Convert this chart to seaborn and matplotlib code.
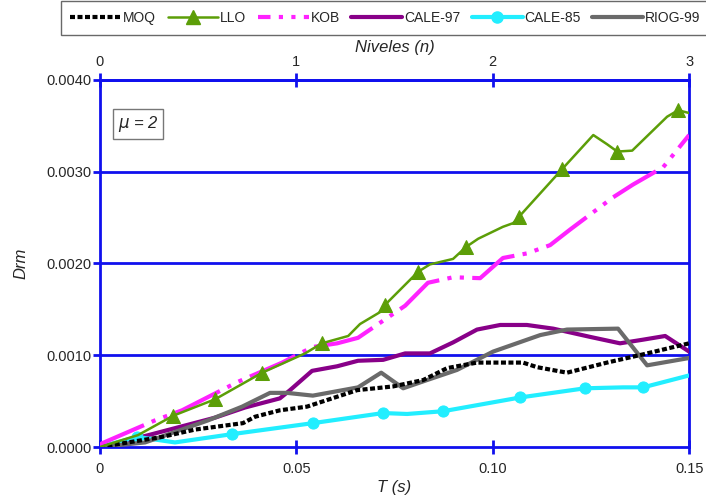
import numpy as np
import pandas as pd
import matplotlib
matplotlib.use("Agg")
import matplotlib.pyplot as plt
from matplotlib.lines import Line2D
import seaborn as sns

# Period T (s) and drift ratio Drm for each record
moq_t = [0, 0.0158, 0.0242, 0.0364, 0.0395, 0.0458, 0.0527, 0.0655, 0.0746, 0.0823,
         0.0884, 0.0960, 0.1077, 0.1113, 0.1189, 0.1291, 0.1383, 0.15]
moq_v = [0, 0.00011, 0.00019, 0.00026, 0.00033, 0.00040, 0.00044, 0.00062, 0.00066, 0.00073,
         0.00086, 0.00092, 0.00092, 0.00087, 0.00081, 0.00092, 0.00101, 0.00113]

llo_t = [0, 0.0097, 0.0186, 0.0293, 0.0413, 0.0522, 0.0565, 0.0632, 0.0662, 0.0713,
         0.0726, 0.0810, 0.0840, 0.0899, 0.0932, 0.0963, 0.1026, 0.1052, 0.1067, 0.1177,
         0.1256, 0.1291, 0.1317, 0.1355, 0.1444, 0.1472, 0.15]
llo_v = [0, 0.00013, 0.00034, 0.00052, 0.00081, 0.00102, 0.00113, 0.00121, 0.00134, 0.00147,
         0.00155, 0.00191, 0.00199, 0.00205, 0.00218, 0.00227, 0.00240, 0.00244, 0.00251, 0.00303,
         0.00340, 0.00330, 0.00322, 0.00323, 0.00360, 0.00367, 0.00364]
llo_marks = [2, 3, 4, 6, 10, 11, 14, 18, 19, 22, 25]

kob_t = [0, 0.0005, 0.0140, 0.0209, 0.0351, 0.0464, 0.0509, 0.0542, 0.0604, 0.0657,
         0.0777, 0.0835, 0.0899, 0.0968, 0.1026, 0.1087, 0.1146, 0.1197, 0.1306, 0.1357,
         0.1434, 0.15]
kob_v = [0, 0.00004, 0.00029, 0.00040, 0.00071, 0.00092, 0.00102, 0.00109, 0.00113, 0.00119,
         0.00154, 0.00179, 0.00185, 0.00184, 0.00206, 0.00211, 0.00220, 0.00237, 0.00272, 0.00286,
         0.00305, 0.00340]

cale97_t = [0, 0.0115, 0.0293, 0.0369, 0.0458, 0.0484, 0.0540, 0.0604, 0.0657, 0.0721,
            0.0777, 0.0840, 0.0899, 0.0960, 0.1019, 0.1087, 0.1154, 0.1248, 0.1324, 0.1383,
            0.1439, 0.15]
cale97_v = [0, 0.00012, 0.00032, 0.00043, 0.00053, 0.00062, 0.00083, 0.00088, 0.00094, 0.00095,
            0.00102, 0.00102, 0.00114, 0.00128, 0.00133, 0.00133, 0.00129, 0.00120, 0.00113, 0.00117,
            0.00121, 0.00104]

cale85_t = [0, 0.0094, 0.0191, 0.0336, 0.0542, 0.0721, 0.0782, 0.0874, 0.1070, 0.1235,
            0.1332, 0.1383, 0.15]
cale85_v = [0, 0.00011, 0.00005, 0.00014, 0.00026, 0.00037, 0.00036, 0.00039, 0.00054, 0.00064,
            0.00065, 0.00065, 0.00078]
cale85_marks = [1, 3, 4, 5, 7, 8, 9, 11]

riog_t = [0, 0.0115, 0.0275, 0.0362, 0.0433, 0.0476, 0.0542, 0.0657, 0.0716, 0.0772,
          0.0833, 0.0909, 0.1001, 0.1121, 0.1189, 0.1319, 0.1393, 0.15]
riog_v = [0, 0.00005, 0.00029, 0.00044, 0.00059, 0.00059, 0.00056, 0.00065, 0.00081, 0.00064,
          0.00073, 0.00084, 0.00104, 0.00122, 0.00128, 0.00129, 0.00089, 0.00097]

x_ticks = [0, 0.05, 0.10, 0.15]
x_tick_labels = ["0", "0.05", "0.10", "0.15"]
y_ticks = [0, 0.001, 0.002, 0.003, 0.004]
y_tick_labels = ["0.0000", "0.0010", "0.0020", "0.0030", "0.0040"]
n_ticks = [0, 1, 2, 3]
n_tick_labels = ["0", "1", "2", "3"]

sns.set_style("white")
plt.rcParams["font.family"] = ["Liberation Sans", "DejaVu Sans"]

BLUE = "#1010ee"
MOQ_DASH = (0, (1.2, 0.6))
KOB_DASH = (0, (12, 2, 1, 2, 1, 2))

fig = plt.figure(figsize=(7.06, 4.99), dpi=100)
ax = fig.add_axes([0.1416, 0.1042, 0.8345, 0.7355])

# horizontal grid lines
for yv in y_ticks[1:]:
    ax.axhline(yv, color=BLUE, lw=2.0, zorder=1)

def draw(t, v, **kw):
    df = pd.DataFrame({"T": t, "Drm": v})
    sns.lineplot(data=df, x="T", y="Drm", ax=ax, estimator=None, sort=False, **kw)

draw(moq_t, moq_v, color="black", lw=3.0, linestyle=MOQ_DASH, zorder=4)
draw(llo_t, llo_v, color="#5c9e08", lw=1.8, marker="^", markersize=10,
     markevery=llo_marks, markeredgecolor="#5c9e08", zorder=5)
draw(kob_t, kob_v, color="#ff22ff", lw=3.0, linestyle=KOB_DASH, zorder=4)
draw(cale97_t, cale97_v, color="#880088", lw=3.0, zorder=3)
draw(cale85_t, cale85_v, color="#22eeff", lw=3.0, marker="o", markersize=8,
     markevery=cale85_marks, markeredgecolor="#22eeff", zorder=3)
draw(riog_t, riog_v, color="#6a6a6a", lw=3.0, zorder=3)

ax.set_xlim(0, 0.15)
ax.set_ylim(0, 0.004)
ax.set_xticks(x_ticks)
ax.set_xticklabels(x_tick_labels)
ax.set_yticks(y_ticks)
ax.set_yticklabels(y_tick_labels)
ax.grid(False)

for s in ax.spines.values():
    s.set_color(BLUE)
    s.set_linewidth(2.0)
    s.set_visible(True)

ax.tick_params(axis="x", direction="inout", length=10, width=2, color=BLUE,
               labelsize=10.5, pad=6, bottom=True)
ax.tick_params(axis="y", direction="out", length=5, width=2, color=BLUE,
               labelsize=10.5, pad=1, left=True)

ax.set_xlabel("T (s)", fontsize=12, style="italic", labelpad=3)
ax.set_ylabel("Drm", fontsize=12, style="italic", labelpad=13)

top = ax.secondary_xaxis("top", functions=(lambda t: t / 0.05, lambda n: n * 0.05))
top.set_xticks(n_ticks)
top.set_xticklabels(n_tick_labels)
top.tick_params(axis="x", direction="inout", length=10, width=2, color=BLUE,
                labelsize=10.5, pad=3)
top.spines["top"].set_color(BLUE)
top.spines["top"].set_linewidth(2.0)
top.set_xlabel("Niveles (n)", fontsize=12, style="italic", labelpad=2)

ax.text(0.03, 0.88, r"$\mu$ = 2", transform=ax.transAxes, fontsize=12,
        style="italic", va="center", ha="left",
        bbox=dict(boxstyle="square,pad=0.3", fc="white", ec="#777777", lw=1))

handles = [
    Line2D([], [], color="black", lw=3.0, linestyle=MOQ_DASH),
    Line2D([], [], color="#5c9e08", lw=1.8, marker="^", markersize=10),
    Line2D([], [], color="#ff22ff", lw=3.0, linestyle=(0, (3, 2, 1, 2, 1, 2))),
    Line2D([], [], color="#880088", lw=3.0),
    Line2D([], [], color="#22eeff", lw=3.0, marker="o", markersize=8),
    Line2D([], [], color="#6a6a6a", lw=3.0),
]
labels = ["MOQ", "LLO", "KOB", "CALE-97", "CALE-85", "RIOG-99"]
leg = fig.legend(handles, labels, loc="upper left", bbox_to_anchor=(0.086, 0.997),
                 ncol=6, frameon=True, fancybox=False, fontsize=10,
                 handlelength=3.65, handletextpad=0.12, columnspacing=0.85,
                 borderpad=0.7, borderaxespad=0)
leg.get_frame().set_edgecolor("#444444")
leg.get_frame().set_linewidth(1.0)

fig.savefig("out.png", dpi=100)
